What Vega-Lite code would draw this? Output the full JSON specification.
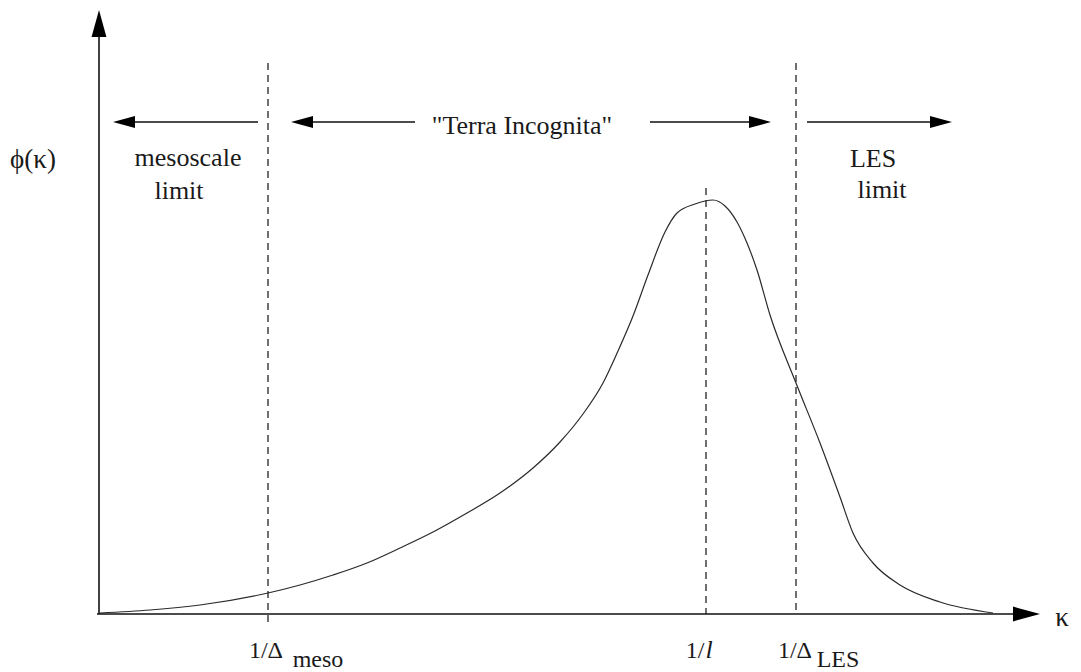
{
  "$schema": "https://vega.github.io/schema/vega-lite/v6.json",
  "width": 1081,
  "height": 672,
  "padding": 0,
  "autosize": {"type": "none"},
  "background": "white",
  "config": {"view": {"stroke": null}, "text": {"font": "Liberation Serif", "color": "#1a1a1a"}},
  "datasets": {
    "curve": [
      {"k": 0.01, "phi": 0.01}, {"k": 0.51, "phi": 0.04}, {"k": 1.01, "phi": 0.09}, {"k": 1.69, "phi": 0.21},
      {"k": 2.01, "phi": 0.29}, {"k": 2.34, "phi": 0.39}, {"k": 2.68, "phi": 0.51}, {"k": 3.01, "phi": 0.66},
      {"k": 3.34, "phi": 0.82}, {"k": 3.68, "phi": 1.01}, {"k": 4.01, "phi": 1.21}, {"k": 4.34, "phi": 1.46},
      {"k": 4.61, "phi": 1.72}, {"k": 4.84, "phi": 2.0}, {"k": 5.04, "phi": 2.31}, {"k": 5.19, "phi": 2.63},
      {"k": 5.34, "phi": 2.98}, {"k": 5.49, "phi": 3.39}, {"k": 5.66, "phi": 3.82}, {"k": 5.78, "phi": 4.01},
      {"k": 5.96, "phi": 4.10}, {"k": 6.14, "phi": 4.14}, {"k": 6.26, "phi": 4.08}, {"k": 6.38, "phi": 3.92},
      {"k": 6.48, "phi": 3.71}, {"k": 6.58, "phi": 3.44}, {"k": 6.71, "phi": 2.99}, {"k": 6.97, "phi": 2.31},
      {"k": 7.21, "phi": 1.71}, {"k": 7.41, "phi": 1.17}, {"k": 7.54, "phi": 0.81}, {"k": 7.74, "phi": 0.51},
      {"k": 8.01, "phi": 0.29}, {"k": 8.41, "phi": 0.12}, {"k": 8.94, "phi": 0.01}
    ],
    "axes": [
      {"name": "phi axis", "k": 0, "phi": 0, "k2": 0, "phi2": 5.85},
      {"name": "kappa axis", "k": -0.02, "phi": 0, "k2": 9.3, "phi2": 0}
    ],
    "arrows": [
      {"name": "mesoscale", "k": 1.59, "phi": 4.92, "k2": 0.24, "phi2": 4.92},
      {"name": "terra left", "k": 3.16, "phi": 4.92, "k2": 2.02, "phi2": 4.92},
      {"name": "terra right", "k": 5.51, "phi": 4.92, "k2": 6.62, "phi2": 4.92},
      {"name": "LES", "k": 7.08, "phi": 4.92, "k2": 8.43, "phi2": 4.92}
    ],
    "dashes": [
      {"name": "1/Delta meso", "k": 1.69, "phi": 5.51, "phi2": -0.13},
      {"name": "1/l", "k": 6.07, "phi": 4.26, "phi2": 0},
      {"name": "1/Delta LES", "k": 6.97, "phi": 5.51, "phi2": 0}
    ],
    "heads": [
      {"k": 0, "phi": 6.04, "direction": "up", "role": "axis"},
      {"k": 9.41, "phi": 0, "direction": "right", "role": "axis"},
      {"k": 0.14, "phi": 4.92, "direction": "left", "role": "annotation"},
      {"k": 1.92, "phi": 4.92, "direction": "left", "role": "annotation"},
      {"k": 6.72, "phi": 4.92, "direction": "right", "role": "annotation"},
      {"k": 8.53, "phi": 4.92, "direction": "right", "role": "annotation"}
    ],
    "labels": [
      {"text": "mesoscale", "k": 0.89, "phi": 4.48},
      {"text": "limit", "k": 0.80, "phi": 4.15},
      {"text": "\"Terra Incognita\"", "k": 4.23, "phi": 4.80},
      {"text": "LES", "k": 7.74, "phi": 4.47},
      {"text": "limit", "k": 7.83, "phi": 4.16}
    ],
    "ticks": [
      {"text": "1/Δ", "k": 1.67, "phi": -0.44},
      {"text": "meso", "k": 2.19, "phi": -0.53},
      {"text": "1/", "k": 5.96, "phi": -0.44},
      {"text": "1/Δ", "k": 6.96, "phi": -0.44},
      {"text": "LES", "k": 7.39, "phi": -0.53}
    ],
    "italic": [
      {"text": "l", "k": 6.10, "phi": -0.44}
    ],
    "symbols": [
      {"text": "ϕ(κ)", "k": -0.66, "phi": 4.54},
      {"text": "κ", "k": 9.63, "phi": -0.04}
    ]
  },
  "encoding": {
    "x": {"field": "k", "type": "quantitative", "scale": {"domain": [-0.99, 9.82], "nice": false, "zero": false}, "axis": null},
    "y": {"field": "phi", "type": "quantitative", "scale": {"domain": [-0.58, 6.14], "nice": false, "zero": false}, "axis": null}
  },
  "layer": [
    {
      "data": {"name": "dashes"},
      "mark": {"type": "rule", "stroke": "#333", "strokeWidth": 1.4, "strokeDash": [7, 5]},
      "encoding": {"y2": {"field": "phi2"}}
    },
    {
      "data": {"name": "curve"},
      "mark": {"type": "line", "stroke": "#2a2a2a", "strokeWidth": 1.2, "interpolate": "monotone"},
      "encoding": {"order": {"field": "k", "type": "quantitative"}}
    },
    {
      "data": {"name": "axes"},
      "mark": {"type": "rule", "stroke": "#111", "strokeWidth": 1.6},
      "encoding": {"x2": {"field": "k2"}, "y2": {"field": "phi2"}}
    },
    {
      "data": {"name": "arrows"},
      "mark": {"type": "rule", "stroke": "#111", "strokeWidth": 1.3},
      "encoding": {"x2": {"field": "k2"}, "y2": {"field": "phi2"}}
    },
    {
      "data": {"name": "heads"},
      "transform": [{"filter": "datum.direction === 'up'"}],
      "mark": {"type": "point", "shape": "M0,0L-2,-0.55L-2,0.55Z", "filled": true, "fill": "#000", "opacity": 1, "strokeWidth": 0, "size": 729, "angle": 270}
    },
    {
      "data": {"name": "heads"},
      "transform": [{"filter": "datum.direction === 'right' && datum.role === 'axis'"}],
      "mark": {"type": "point", "shape": "M0,0L-2,-0.55L-2,0.55Z", "filled": true, "fill": "#000", "opacity": 1, "strokeWidth": 0, "size": 729, "angle": 0}
    },
    {
      "data": {"name": "heads"},
      "transform": [{"filter": "datum.direction === 'right' && datum.role === 'annotation'"}],
      "mark": {"type": "point", "shape": "M0,0L-2,-0.55L-2,0.55Z", "filled": true, "fill": "#000", "opacity": 1, "strokeWidth": 0, "size": 484, "angle": 0}
    },
    {
      "data": {"name": "heads"},
      "transform": [{"filter": "datum.direction === 'left'"}],
      "mark": {"type": "point", "shape": "M0,0L-2,-0.55L-2,0.55Z", "filled": true, "fill": "#000", "opacity": 1, "strokeWidth": 0, "size": 484, "angle": 180}
    },
    {
      "data": {"name": "labels"},
      "mark": {"type": "text", "fontSize": 26, "align": "center", "baseline": "alphabetic"},
      "encoding": {"text": {"field": "text"}}
    },
    {
      "data": {"name": "ticks"},
      "mark": {"type": "text", "fontSize": 24, "align": "center", "baseline": "alphabetic"},
      "encoding": {"text": {"field": "text"}}
    },
    {
      "data": {"name": "italic"},
      "mark": {"type": "text", "fontSize": 26, "fontStyle": "italic", "align": "center", "baseline": "alphabetic"},
      "encoding": {"text": {"field": "text"}}
    },
    {
      "data": {"name": "symbols"},
      "mark": {"type": "text", "fontSize": 27, "align": "center", "baseline": "middle"},
      "encoding": {"text": {"field": "text"}}
    }
  ]
}
